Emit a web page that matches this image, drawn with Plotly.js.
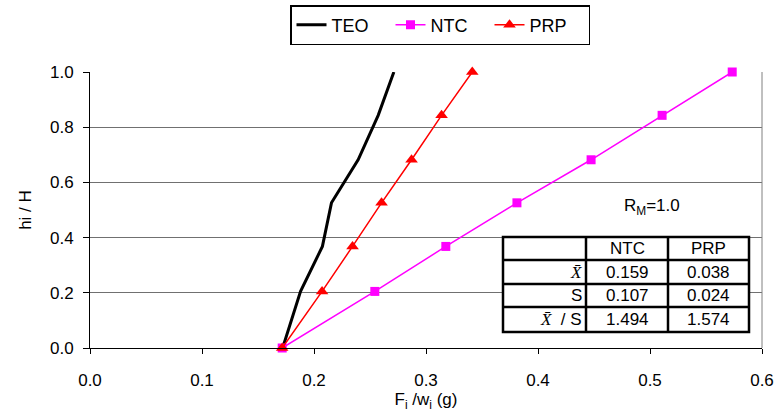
<!DOCTYPE html>
<html>
<head>
<meta charset="utf-8">
<script src="https://cdn.plot.ly/plotly-3.0.1.min.js"></script>
<style>html,body{margin:0;padding:0;background:#fff;}#chart{width:777px;height:414px;}</style>
</head>
<body>
<div id="chart"></div>
<script>
// ---- data ----
const heightRatio = [0, 0.205, 0.368, 0.526, 0.682, 0.843, 1.0];
const teoX = [0.172, 0.188, 0.2075, 0.2156, 0.2394, 0.2573, 0.2713];
const ntcX = [0.1716, 0.2543, 0.3177, 0.3812, 0.4474, 0.5108, 0.5734];
const prpX = [0.1716, 0.2072, 0.2344, 0.2603, 0.2871, 0.3139, 0.3413];

const tableHeader = ["", "NTC", "PRP"];
const XBAR = '<span style="font-family:Liberation Serif,Times New Roman,serif"><i>X\u0304</i></span>';
const tableRowLabels = [XBAR, "S", XBAR + "  / S"];
const tableNTC = ["0.159", "0.107", "1.494"];
const tablePRP = ["0.038", "0.024", "1.574"];
const noteText = "R<sub>M</sub>=1.0";

// ---- layout helpers ----
const M = {l: 90, r: 15, t: 72, b: 66, autoexpand: false};
const W = 777, H = 414;
const PW = W - M.l - M.r, PH = H - M.t - M.b;
const px = v => (v - M.l) / PW;
const py = v => (H - M.b - v) / PH;
const FONT = "Liberation Sans, Arial, sans-serif";
const txtFont = {family: FONT, size: 17, color: "#000"};

const traces = [
  {x: teoX, y: heightRatio, name: "TEO", mode: "lines", type: "scatter",
   line: {color: "#000000", width: 3}},
  {x: ntcX, y: heightRatio, name: "NTC", mode: "lines+markers", type: "scatter",
   line: {color: "#ff00ff", width: 1.5}, marker: {symbol: "square", size: 9, color: "#ff00ff"}, cliponaxis: false},
  {x: prpX, y: heightRatio, name: "PRP", mode: "lines+markers", type: "scatter",
   line: {color: "#ff0000", width: 1.5}, marker: {symbol: "triangle-up", size: 11, color: "#ff0000"}, cliponaxis: false}
];

// table geometry (pixels)
const colEdges = [503, 586, 668, 749];
const rowEdges = [237, 260, 284, 307, 332];
const shapes = [
  {type: "line", xref: "paper", yref: "paper", x0: 1, x1: 1, y0: 0, y1: 1, line: {color: "#808080", width: 1}},
  {type: "rect", xref: "paper", yref: "paper", x0: px(colEdges[0]), x1: px(colEdges[3]), y0: py(rowEdges[0]), y1: py(rowEdges[4]),
   fillcolor: "#ffffff", line: {color: "#000", width: 2.5}, layer: "above"}
];
colEdges.slice(1, 3).forEach(c => shapes.push({type: "line", xref: "paper", yref: "paper", x0: px(c), x1: px(c), y0: py(rowEdges[0]), y1: py(rowEdges[4]), line: {color: "#000", width: 2.5}, layer: "above"}));
rowEdges.slice(1, 4).forEach(r => shapes.push({type: "line", xref: "paper", yref: "paper", x0: px(colEdges[0]), x1: px(colEdges[3]), y0: py(r), y1: py(r), line: {color: "#000", width: 2.5}, layer: "above"}));

const ann = (x, y, text, xanchor) => ({xref: "paper", yref: "paper", x: px(x), y: py(y), text: text, showarrow: false,
  xanchor: xanchor || "center", yanchor: "middle", font: txtFont});
const annotations = [ann(652, 207, noteText)];
const colCenters = [(colEdges[1] + colEdges[2]) / 2, (colEdges[2] + colEdges[3]) / 2];
const rowCenters = rowEdges.slice(0, 4).map((r, i) => (r + rowEdges[i + 1]) / 2);
tableHeader.slice(1).forEach((t, i) => annotations.push(ann(colCenters[i], rowCenters[0], t)));
tableRowLabels.forEach((t, i) => {
  annotations.push(ann(colEdges[1] - 2, rowCenters[i + 1], t, "right"));
  annotations.push(ann(colCenters[0], rowCenters[i + 1], tableNTC[i]));
  annotations.push(ann(colCenters[1], rowCenters[i + 1], tablePRP[i]));
});

const layout = {
  width: W, height: H,
  margin: M,
  paper_bgcolor: "#fff", plot_bgcolor: "#fff",
  font: txtFont,
  showlegend: true,
  legend: {orientation: "h", x: px(440), xanchor: "center", y: py(5), yanchor: "top",
           entrywidth: 54, entrywidthmode: "pixels",
           bordercolor: "#000", borderwidth: 1.5, font: {family: FONT, size: 18, color: "#000"}, bgcolor: "#fff"},
  xaxis: {range: [0, 0.6], dtick: 0.1, tick0: 0, tickformat: ".1f", showgrid: false, zeroline: false,
          showline: true, linecolor: "#000", linewidth: 1, ticks: "outside", ticklen: 5, tickcolor: "#000",
          ticklabelstandoff: 12, tickfont: txtFont,
          title: {text: "F<sub>i</sub> /w<sub>i</sub> (g)", font: txtFont, standoff: 2}},
  yaxis: {range: [0, 1], dtick: 0.2, tick0: 0, tickformat: ".1f", showgrid: true, gridcolor: "#707070", gridwidth: 1,
          zeroline: false, showline: true, linecolor: "#000", linewidth: 1, ticks: "outside", ticklen: 6, tickcolor: "#000",
          ticklabelstandoff: 6, tickfont: txtFont,
          title: {text: "hi / H", font: txtFont, standoff: 14}},
  xaxis2: {overlaying: "x", anchor: "y", side: "bottom", range: [0, 0.6], dtick: 0.1, tick0: 0, showgrid: false, zeroline: false,
           showline: false, ticks: "inside", ticklen: 4, tickcolor: "#000", showticklabels: false},
  yaxis2: {overlaying: "y", anchor: "x", side: "left", range: [0, 1], dtick: 0.2, tick0: 0, showgrid: false, zeroline: false,
           showline: false, ticks: "inside", ticklen: 6, tickcolor: "#000", showticklabels: false},
  shapes: shapes,
  annotations: annotations
};

Plotly.newPlot("chart", traces, layout, {displayModeBar: false, staticPlot: true});
</script>
</body>
</html>
